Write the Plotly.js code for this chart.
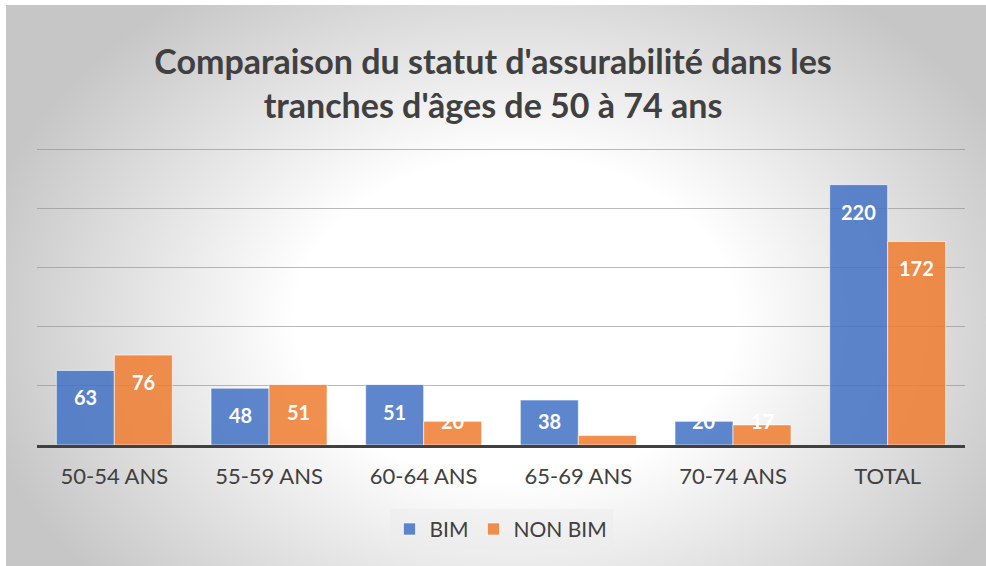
<!DOCTYPE html>
<html>
<head>
<meta charset="utf-8">
<script src="https://cdn.plot.ly/plotly-3.0.1.min.js"></script>
<style>
  html, body { margin: 0; padding: 0; background: #ffffff; }
  #bg { position: absolute; left: 6px; top: 5px; width: 980px; height: 561px;
        background: radial-gradient(ellipse 56% 72% at 52% 56%, #ffffff 0%, #ffffff 40%, #c6c6c6 100%); }
  #chart { position: absolute; left: 0; top: 0; width: 986px; height: 566px; }
</style>
</head>
<body>
<div id="bg"></div>
<div id="chart"></div>
<script>
const categories = ["50-54 ANS", "55-59 ANS", "60-64 ANS", "65-69 ANS", "70-74 ANS", "TOTAL"];
const bimValues = [63, 48, 51, 38, 20, 220];
const nonBimValues = [76, 51, 20, 8, 17, 172];
const seriesNames = ["BIM", "NON BIM"];

const titleText = "Comparaison du statut d'assurabilité dans les<br>tranches d'âges de 50 à 74 ans";
const FONT = "Lato, 'Open Sans', sans-serif";

const traces = [
  {
    type: "bar", name: seriesNames[0], x: categories, y: bimValues,
    marker: { color: "rgba(68,114,196,0.86)", line: { color: "rgba(255,255,255,0.6)", width: 1 } },
    hoverinfo: "x+y"
  },
  {
    type: "bar", name: seriesNames[1], x: categories, y: nonBimValues,
    marker: { color: "rgba(237,125,49,0.86)", line: { color: "rgba(255,255,255,0.6)", width: 1 } },
    hoverinfo: "x+y"
  }
];

// value labels placed inside the bar end (Excel style)
const yMax = 251;
const pxPerUnit = 297 / yMax;
function labelAnn(vals, xshift) {
  return vals.map((v, i) => {
    const depth = v * pxPerUnit;
    let y = v, yshift = -27;
    if (depth - 27 < 24) { y = 0; yshift = 24; }
    return {
      x: categories[i], y: y, yshift: yshift, xshift: xshift,
      text: "<b>" + v + "</b>", showarrow: false, xref: "x", yref: "y",
      font: { family: FONT, size: 20, color: "#ffffff" }
    };
  });
}
const anns = labelAnn(bimValues, -29).concat(labelAnn(nonBimValues, 29));

const layout = {
  width: 986, height: 566,
  margin: { l: 37, r: 21, t: 148, b: 121 },
  paper_bgcolor: "rgba(0,0,0,0)",
  plot_bgcolor: "rgba(0,0,0,0)",
  title: {
    text: "<b>" + titleText + "</b>",
    font: { family: FONT, size: 34, color: "#404040" },
    x: 0.5, xanchor: "center", y: 0.869, yanchor: "middle"
  },
  barmode: "group",
  bargap: 0.25,
  bargroupgap: 0.0,
  xaxis: {
    type: "category",
    showline: true, linecolor: "#404040", linewidth: 3,
    ticks: "", showgrid: false,
    tickfont: { family: FONT, size: 22, color: "#404040" },
    ticklabelstandoff: 10
  },
  yaxis: {
    range: [0, yMax], tickvals: [50, 100, 150, 200, 250],
    showgrid: true, gridcolor: "rgba(140,140,140,0.6)", gridwidth: 1,
    showticklabels: false, zeroline: false, ticks: ""
  },
  showlegend: true,
  legend: {
    orientation: "h", x: 0.5, xanchor: "center", y: -0.284, yanchor: "middle",
    font: { family: FONT, size: 21, color: "#404040" },
    bgcolor: "rgba(235,235,235,0.5)",
    itemwidth: 30
  },
  annotations: anns
};

Plotly.newPlot("chart", traces, layout, { displayModeBar: false, staticPlot: true });
</script>
</body>
</html>
